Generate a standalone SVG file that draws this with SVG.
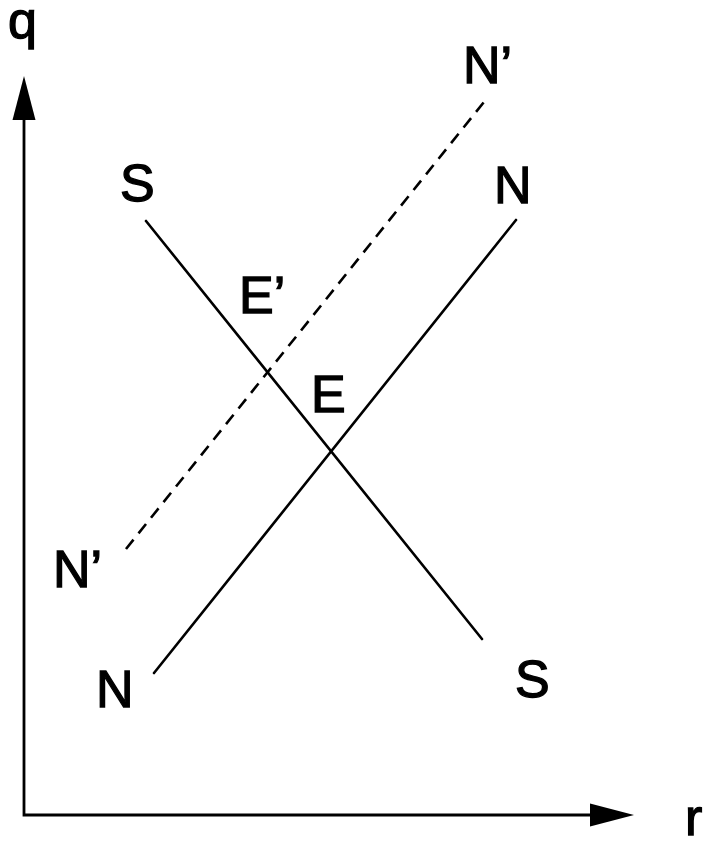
<svg xmlns="http://www.w3.org/2000/svg" width="705" height="841" viewBox="0 0 705 841">
  <style>
    .lbl { font-family: "Liberation Sans", Arial, sans-serif; font-size: 52px; fill: #000; stroke: #000; stroke-width: 1.3; }
    .ax { stroke: #000; stroke-width: 2.8; fill: none; }
    .ln { stroke: #000; stroke-width: 2.6; fill: none; stroke-linecap: round; }
    .dash { stroke-dasharray: 12 8; stroke-linecap: butt; }
    .head { fill: #000; }
  </style>
  <rect width="705" height="841" fill="#fff"/>
  <g id="axes">
    <path class="ax" d="M24,118 L24,815 L592,815"/>
    <polygon class="head" points="24,76 12.5,120 35.5,120"/>
    <polygon class="head" points="634,815 590,803.5 590,826.5"/>
    <text class="lbl" x="8" y="38">q</text>
    <text class="lbl" x="685" y="835">r</text>
  </g>
  <g id="connectors">
    <line id="SS" class="ln" x1="146" y1="221" x2="482" y2="639"/>
    <line id="NN" class="ln" x1="154" y1="673" x2="516" y2="220"/>
    <line id="NpNp" class="ln dash" x1="126" y1="549" x2="488" y2="97"/>
  </g>
  <g id="S-top"><text class="lbl" x="120" y="201">S</text></g>
  <g id="S-bottom"><text class="lbl" x="515" y="697">S</text></g>
  <g id="N-top"><text class="lbl" x="494" y="203">N</text></g>
  <g id="N-bottom"><text class="lbl" x="96" y="707">N</text></g>
  <g id="Np-top"><text class="lbl" x="463" y="83">N’</text></g>
  <g id="Np-left"><text class="lbl" x="53" y="587">N’</text></g>
  <g id="Ep"><text class="lbl" x="239" y="313">E’</text></g>
  <g id="E"><text class="lbl" x="311" y="412">E</text></g>
</svg>
